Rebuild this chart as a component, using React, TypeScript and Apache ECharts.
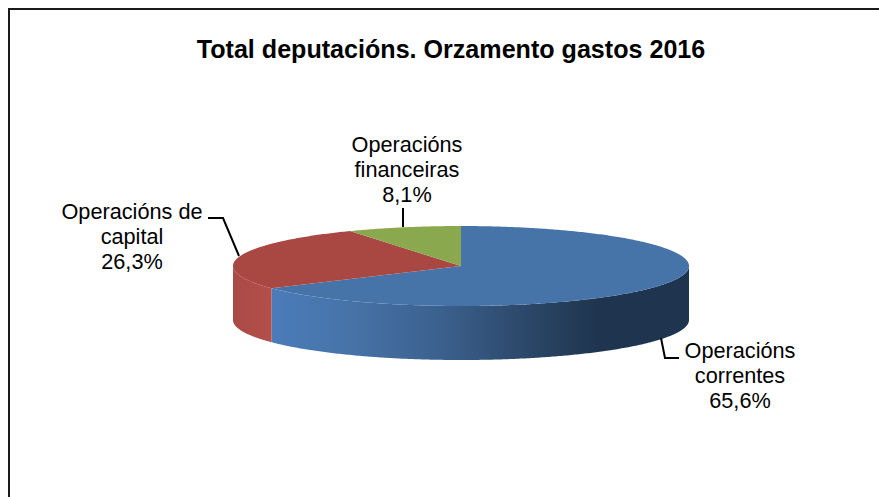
import React, { useEffect, useRef } from "react";
import * as echarts from "echarts";

const titleText = "Total deputacións. Orzamento gastos 2016";
const categories = ["Operacións correntes", "Operacións de capital", "Operacións financeiras"];
const labelLines = [
  ["Operacións", "correntes"],
  ["Operacións de", "capital"],
  ["Operacións", "financeiras"],
];
const shares = [65.6, 26.3, 8.1];

const topColors = ["#4674a9", "#a94843", "#8aa94f"];
const wallStops = [
  [
    [0, "#4b7cb9"],
    [0.2, "#4672a7"],
    [0.42, "#3a5f8b"],
    [0.62, "#2b4667"],
    [0.78, "#1f354f"],
    [1, "#1f354f"],
  ],
  [
    [0, "#a94a45"],
    [1, "#b44f4b"],
  ],
  [
    [0, "#8aa94f"],
    [1, "#8aa94f"],
  ],
];
const labelCenters = [
  [740, 375],
  [132, 236],
  [407, 169],
];
const leaders = [
  [[661, 338], [665, 358], [679, 358]],
  [[208, 218], [223, 218], [239, 256]],
  [[403, 208], [403, 227]],
];

const CX = 461;
const CY = 266;
const RX = 228;
const RY = 40;
const DEPTH = 54;
const TAU = Math.PI * 2;

const pt = (a: number, dy = 0) => [CX + RX * Math.sin(a), CY - RY * Math.cos(a) + dy];
const arc = (a0: number, a1: number, dy = 0) => {
  const n = Math.max(2, Math.ceil(Math.abs(a1 - a0) / 0.01));
  const out: number[][] = [];
  for (let i = 0; i <= n; i++) out.push(pt(a0 + ((a1 - a0) * i) / n, dy));
  return out;
};

const total = shares.reduce((s, v) => s + v, 0);
const starts: number[] = [];
shares.reduce((acc, v, i) => {
  starts[i] = acc;
  return acc + (v / total) * TAU;
}, 0);

function renderSlice(params: any, api: any) {
  const i = params.dataIndex;
  const a0 = starts[i];
  const a1 = a0 + (api.value(0) / total) * TAU;
  const children: any[] = [];
  const w0 = Math.max(a0, Math.PI / 2);
  const w1 = Math.min(a1, (Math.PI * 3) / 2);
  if (w1 > w0) {
    const points = [...arc(w0, w1), ...arc(w1, w0, DEPTH)];
    children.push({
      type: "polygon",
      shape: { points },
      style: {
        fill: new echarts.graphic.LinearGradient(
          0, 0, 1, 0,
          wallStops[i].map(([offset, color]) => ({ offset, color })) as any
        ),
      },
    });
  }
  children.push({
    type: "polygon",
    shape: { points: [[CX, CY], ...arc(a0, a1)] },
    style: { fill: topColors[i] },
  });
  return { type: "group", children };
}

export default function App() {
  const ref = useRef<HTMLDivElement>(null);
  useEffect(() => {
    document.body.style.margin = "0";
    const chart = echarts.init(ref.current!, null, { renderer: "svg" });
    const labelFont = '21.7px "Liberation Sans", Arial, sans-serif';
    chart.setOption({
      animation: false,
      backgroundColor: "#ffffff",
      title: {
        text: titleText,
        left: 446,
        top: 31,
        textAlign: "center",
        textStyle: {
          fontFamily: '"Liberation Sans", Arial, sans-serif',
          fontWeight: "bold",
          fontSize: 25.1,
          color: "#000000",
        },
      },
      graphic: [
        {
          type: "rect",
          z: 1,
          silent: true,
          shape: { x: 9, y: 9, width: 900, height: 520 },
          style: { fill: "none", stroke: "#1a1a1a", lineWidth: 2 },
        },
        ...leaders.map((points) => ({
          type: "polyline",
          z: 5,
          silent: true,
          shape: { points },
          style: { fill: "none", stroke: "#000000", lineWidth: 2 },
        })),
        ...categories.map((name, i) => ({
          type: "text",
          z: 6,
          silent: true,
          x: labelCenters[i][0],
          y: labelCenters[i][1],
          style: {
            text: [...labelLines[i], `${shares[i].toFixed(1).replace(".", ",")}%`].join("\n"),
            font: labelFont,
            fill: "#000000",
            align: "center",
            verticalAlign: "middle",
            lineHeight: 25,
          },
        })),
      ],
      series: [
        {
          type: "custom",
          coordinateSystem: "none",
          silent: true,
          renderItem: renderSlice,
          data: categories.map((name, i) => ({ name, value: [shares[i]] })),
        },
      ],
    });
    return () => chart.dispose();
  }, []);
  return <div ref={ref} style={{ width: 879, height: 497 }} />;
}
